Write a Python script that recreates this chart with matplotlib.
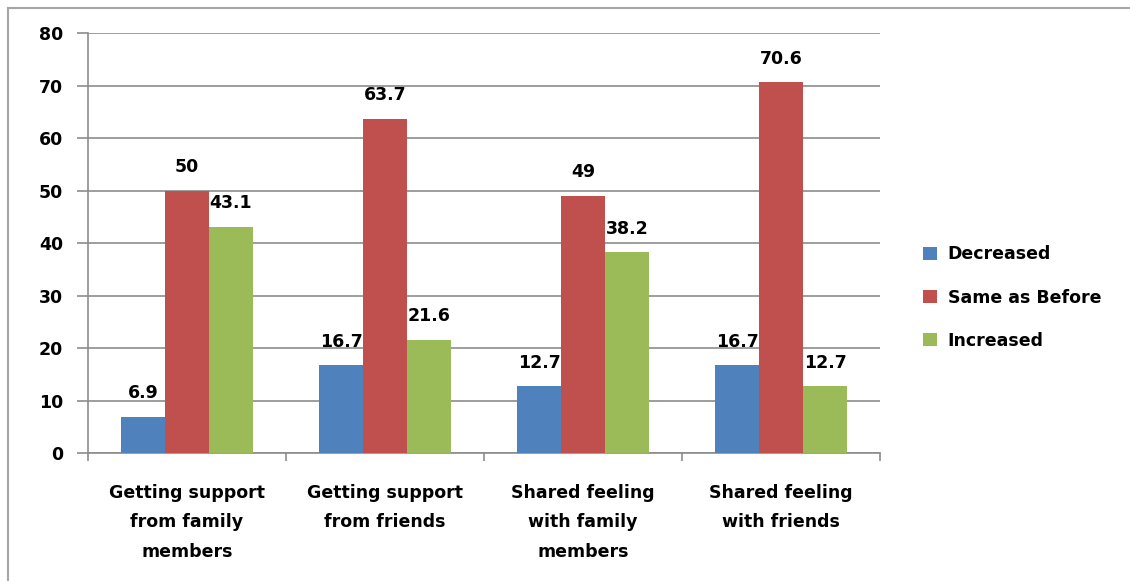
import numpy as np
import matplotlib.pyplot as plt
from matplotlib.lines import Line2D

categories = ["Getting support\nfrom family\nmembers",
              "Getting support\nfrom friends",
              "Shared feeling\nwith family\nmembers",
              "Shared feeling\nwith friends"]
decreased = [6.9, 16.7, 12.7, 16.7]
same_as_before = [50, 63.7, 49, 70.6]
increased = [43.1, 21.6, 38.2, 12.7]
series_names = ["Decreased", "Same as Before", "Increased"]
colors = ["#4F81BD", "#C0504D", "#9BBB59"]

plt.rcParams['font.family'] = ['DejaVu Sans']
plt.rcParams['font.weight'] = 'bold'
fs = 12.5

fig = plt.figure(figsize=(11.3, 5.81), dpi=100)
ax = fig.add_axes([0.0779, 0.2203, 0.7009, 0.7229])

x = np.arange(len(categories))
w = 0.222
for i, (vals, name, c) in enumerate(zip([decreased, same_as_before, increased], series_names, colors)):
    pos = x + (i - 1) * w
    ax.bar(pos, vals, width=w, color=c, label=name, zorder=3)
    for xp, v in zip(pos, vals):
        ax.annotate(f"{v:g}", (xp, v), xytext=(0, 17), textcoords="offset points",
                    ha="center", va="center", fontsize=fs, fontweight="bold")

ax.set_xlim(-0.5, len(categories) - 0.5)
ax.set_ylim(0, 80)
ax.set_yticks(np.arange(0, 81, 10))
ax.yaxis.grid(True, color="#8c8c8c", linewidth=1.2, zorder=0)
ax.set_axisbelow(True)

ax.set_xticks(np.arange(-0.5, len(categories), 1))
ax.set_xticklabels([])
ax.set_xticks(x, minor=True)
ax.set_xticklabels(categories, minor=True, fontsize=fs, fontweight="bold", linespacing=1.85)
ax.tick_params(axis="x", which="major", length=6, color="#8c8c8c", width=1.2)
ax.tick_params(axis="x", which="minor", length=0, pad=22)
ax.tick_params(axis="y", length=8, color="#8c8c8c", width=1.2, labelsize=fs, pad=10)
for lbl in ax.get_yticklabels():
    lbl.set_fontweight("bold")

for s in ["top", "right"]:
    ax.spines[s].set_visible(False)
for s in ["left", "bottom"]:
    ax.spines[s].set_color("#8c8c8c")
    ax.spines[s].set_linewidth(1.2)

ax.legend(loc="center left", bbox_to_anchor=(1.035, 0.37), frameon=False,
          prop={"size": fs, "weight": "bold"}, handlelength=0.8, handleheight=0.8,
          labelspacing=1.45, handletextpad=0.6)

# chart frame
fig.add_artist(Line2D([8 / 1130, 8 / 1130], [0, 1 - 8 / 581], transform=fig.transFigure,
                      color="#a6a6a6", linewidth=1.5))
fig.add_artist(Line2D([8 / 1130, 1], [1 - 8 / 581, 1 - 8 / 581], transform=fig.transFigure,
                      color="#a6a6a6", linewidth=1.5))

fig.savefig("out.png", dpi=100)
